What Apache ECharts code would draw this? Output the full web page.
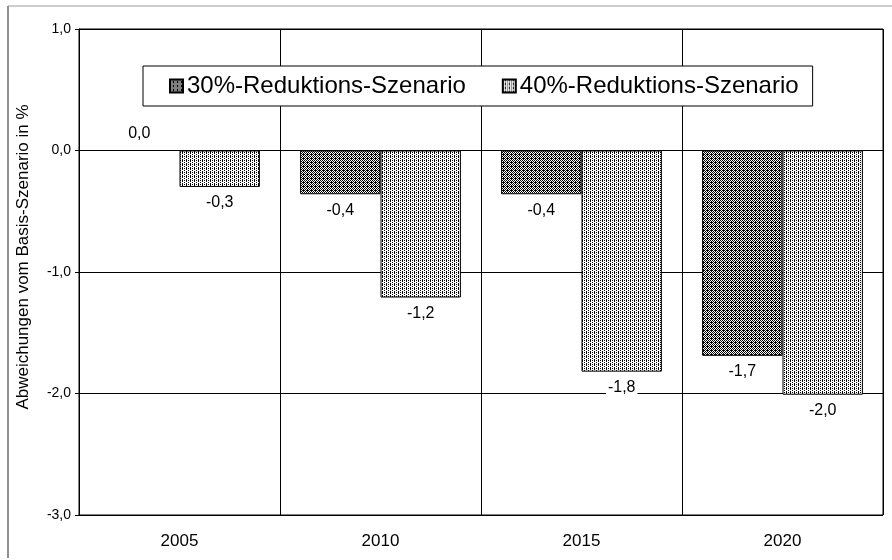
<!DOCTYPE html>
<html>
<head>
<meta charset="utf-8">
<script src="https://cdn.jsdelivr.net/npm/echarts@6/dist/echarts.min.js"></script>
<style>
  html, body { margin: 0; padding: 0; background: #fff; }
  #chart { width: 892px; height: 560px; }
</style>
</head>
<body>
<div id="chart"></div>
<script>
// Daten
var years = ['2005', '2010', '2015', '2020'];
var reduktion30 = [0.0, -0.36, -0.36, -1.69];
var reduktion40 = [-0.3, -1.21, -1.82, -2.01];
var yTicks = [-3, -2, -1, 0, 1];
var seriesNames = ['30%-Reduktions-Szenario', '40%-Reduktions-Szenario'];

// Rastermuster wie im gescannten Original
function makePattern(rows) {
    var c = document.createElement('canvas');
    c.width = rows[0].length;
    c.height = rows.length;
    var ctx = c.getContext('2d');
    ctx.fillStyle = '#fff';
    ctx.fillRect(0, 0, c.width, c.height);
    ctx.fillStyle = '#000';
    rows.forEach(function (r, y) {
        for (var x = 0; x < r.length; x++) {
            if (r[x] === '#') ctx.fillRect(x, y, 1, 1);
        }
    });
    return { image: c, repeat: 'repeat' };
}
var darkFill = makePattern([
    '#.#.',
    '.#.#',
    '#.##',
    '.#.#'
]);
var lightFill = makePattern([
    '#.#.',
    '..#.',
    '#...',
    '..#.'
]);

function fmt(v) {
    return v.toFixed(1).replace('.', ',');
}

function toData(arr) {
    return arr.map(function (v) {
        return {
            value: v,
            label: { position: v < 0 ? 'bottom' : 'top' }
        };
    });
}

var barLabel = {
    show: true, distance: 7, fontSize: 16, color: '#000',
    backgroundColor: '#fff', padding: [1, 2],
    formatter: function (p) { return fmt(p.value); }
};

var chart = echarts.init(document.getElementById('chart'));
chart.setOption({
    backgroundColor: '#fff',
    animation: false,
    textStyle: { fontFamily: 'Liberation Sans, Arial, sans-serif', color: '#000' },
    grid: { left: 79, right: 9, top: 29, bottom: 45, show: true, borderColor: '#000', borderWidth: 1 },
    legend: {
        data: seriesNames,
        icon: 'rect',
        left: 143,
        top: 66,
        padding: [8, 14, 8, 26],
        itemGap: 36,
        itemWidth: 13,
        itemHeight: 13,
        backgroundColor: '#fff',
        borderColor: '#000',
        borderWidth: 1,
        borderRadius: 0,
        textStyle: { fontSize: 24, color: '#000', padding: [0, 0, 0, -1] }
    },
    xAxis: {
        type: 'category',
        data: years,
        axisLine: { lineStyle: { color: '#000' } },
        axisTick: { show: false },
        axisLabel: { fontSize: 17, color: '#000', margin: 18 },
        splitLine: { show: true, lineStyle: { color: '#000', width: 1 } }
    },
    yAxis: {
        type: 'value',
        min: yTicks[0],
        max: yTicks[yTicks.length - 1],
        interval: 1,
        name: 'Abweichungen vom Basis-Szenario in %',
        nameLocation: 'middle',
        nameGap: 47,
        nameTextStyle: { fontSize: 17, color: '#000', padding: [0, 0, 0, 30] },
        axisLine: { show: true, lineStyle: { color: '#000' } },
        axisTick: { show: true, length: 4, lineStyle: { color: '#000' } },
        axisLabel: { fontSize: 14, color: '#000', margin: 8, formatter: function (v) { return fmt(v); } },
        splitLine: { show: true, lineStyle: { color: '#000', width: 1 } }
    },
    series: [
        {
            name: seriesNames[0],
            type: 'bar',
            data: toData(reduktion30),
            barGap: '0%',
            barCategoryGap: '20%',
            itemStyle: { color: darkFill, borderColor: '#000', borderWidth: 1 },
            label: barLabel
        },
        {
            name: seriesNames[1],
            type: 'bar',
            data: toData(reduktion40),
            barGap: '0%',
            barCategoryGap: '20%',
            itemStyle: { color: lightFill, borderColor: '#000', borderWidth: 1 },
            label: barLabel
        }
    ],
    graphic: [
        { type: 'line', shape: { x1: 8, y1: 6, x2: 8, y2: 558 }, style: { stroke: '#222', lineWidth: 1 } },
        { type: 'line', shape: { x1: 8, y1: 6, x2: 892, y2: 6 }, style: { stroke: '#999', lineWidth: 1 } }
    ]
});
</script>
</body>
</html>
